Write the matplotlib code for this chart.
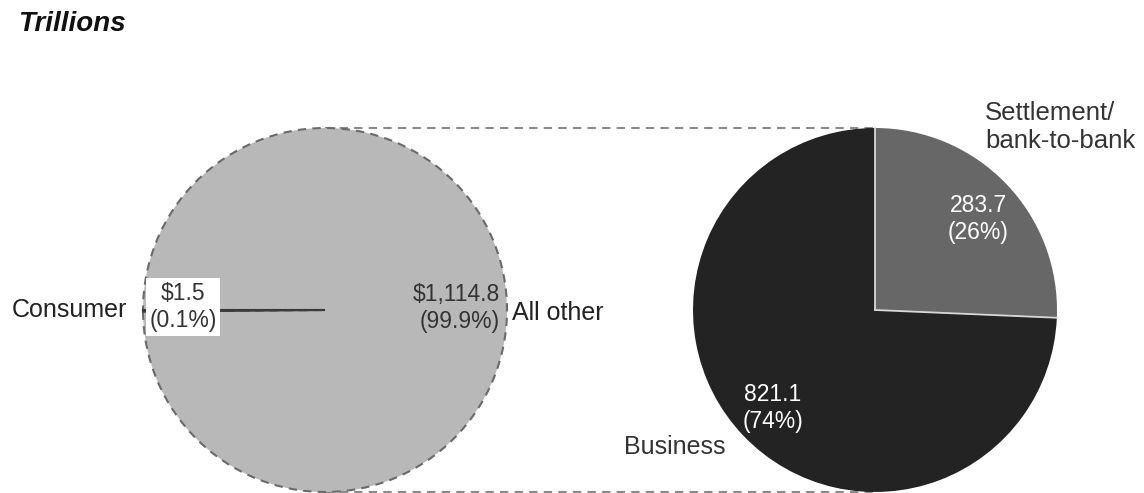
import numpy as np
import matplotlib
matplotlib.use("Agg")
import matplotlib.pyplot as plt

plt.rcParams["font.family"] = ["Liberation Sans", "DejaVu Sans"]

# payment values, trillions of dollars
total_labels = ["Consumer", "All other"]
total_values = [1.5, 1114.8]
total_pcts = ["0.1%", "99.9%"]

other_labels = ["Settlement/\nbank-to-bank", "Business"]
other_values = [283.7, 821.1]
other_pcts = ["26%", "74%"]

W, H = 1144, 493
fig = plt.figure(figsize=(W / 100, H / 100), dpi=100)
ax = fig.add_axes([0, 0, 1, 1])

dash = (0, (4, 3))

# left pie: whole total, consumer sliver pointing left
lc, lr = (325, 183), 182
lw, _ = ax.pie(total_values, colors=["#3a3a3a", "#b8b8b8"], startangle=180,
               center=lc, radius=lr, frame=True)
lw[1].set_edgecolor("#6a6a6a")
lw[1].set_linestyle(dash)
lw[1].set_linewidth(1.5)
lw[0].set_edgecolor("#3a3a3a")
lw[0].set_linewidth(1.5)
lw[0].set_zorder(3)

# right pie: breakdown of "All other"
rc, rr = (875, 183), 182
rw, _ = ax.pie(other_values, colors=["#676767", "#232323"], startangle=90,
               counterclock=False, center=rc, radius=rr, frame=True,
               wedgeprops=dict(linewidth=0))
# light separators between the right-hand wedges
for ang in (rw[0].theta1, rw[0].theta2):
    t = np.deg2rad(ang)
    ax.plot([rc[0], rc[0] + rr * np.cos(t)], [rc[1], rc[1] + rr * np.sin(t)],
            color="#d8d8d8", lw=1.3, zorder=3)

ax.set_xlim(0, W)
ax.set_ylim(0, H)
ax.set_aspect("equal")
ax.axis("off")

# connectors between pies
for sign in (1, -1):
    ax.plot([lc[0], rc[0]], [lc[1] + sign * lr, rc[1] + sign * rr],
            color="#8a8a8a", lw=1.5, ls=dash, zorder=0)

fs = 18
vfs = 16.5
ax.text(12, 183, total_labels[0], fontsize=fs, va="center", ha="left",
        color="#222222", zorder=5)
ax.text(183, 186, f"${total_values[0]:,.1f}\n({total_pcts[0]})", fontsize=vfs,
        va="center", ha="center", color="#333333", linespacing=1.25, zorder=5,
        bbox=dict(boxstyle="square,pad=0.15", fc="white", ec="none"))
ax.text(500, 185, f"${total_values[1]:,.1f}\n({total_pcts[1]})", fontsize=vfs,
        va="center", ha="right", color="#333333", linespacing=1.25, zorder=5)
ax.text(512, 180, total_labels[1], fontsize=fs, va="center", ha="left",
        color="#222222", zorder=5)

ax.text(985, 366, other_labels[0], fontsize=18.5, va="center", ha="left",
        color="#333333", linespacing=1.2, zorder=5)
ax.text(725, 46, other_labels[1], fontsize=fs, va="center", ha="right",
        color="#333333", zorder=5)
ax.text(978, 274, f"{other_values[0]:.1f}\n({other_pcts[0]})", fontsize=vfs,
        va="center", ha="center", color="white", linespacing=1.25, zorder=5)
ax.text(773, 85, f"{other_values[1]:.1f}\n({other_pcts[1]})", fontsize=vfs,
        va="center", ha="center", color="white", linespacing=1.25, zorder=5)

ax.text(18, 469, "Trillions", fontsize=20, fontweight="bold", fontstyle="italic",
        va="center", ha="left", color="#111111")

fig.savefig("out.png", dpi=100)
